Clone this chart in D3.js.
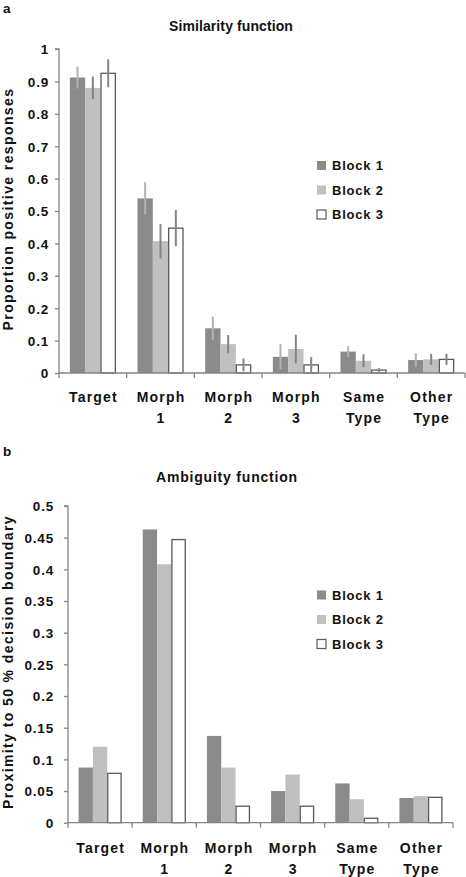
<!DOCTYPE html>
<html>
<head>
<meta charset="utf-8">
<script src="https://cdn.jsdelivr.net/npm/d3@7"></script>
<style>
  html, body { margin: 0; padding: 0; background: #fff; }
  svg { display: block; }
  text { font-family: "Liberation Sans", Arial, sans-serif; font-weight: bold; fill: #111; }
</style>
</head>
<body>
<svg id="chart" width="466" height="877"></svg>
<script>
// ---------- data ----------
const categories = ["Target", "Morph 1", "Morph 2", "Morph 3", "Same Type", "Other Type"];
const catLine1 = ["Target", "Morph", "Morph", "Morph", "Same", "Other"];
const catLine2 = ["", "1", "2", "3", "Type", "Type"];
const seriesNames = ["Block 1", "Block 2", "Block 3"];

// Panel a: similarity function (mean proportion positive responses)
const simBlock1 = [0.912, 0.539, 0.138, 0.050, 0.066, 0.040];
const simBlock2 = [0.880, 0.407, 0.089, 0.074, 0.038, 0.042];
const simBlock3 = [0.925, 0.447, 0.025, 0.025, 0.009, 0.042];
// error bar half-lengths
const simErr1 = [0.034, 0.050, 0.036, 0.039, 0.017, 0.021];
const simErr2 = [0.035, 0.053, 0.028, 0.044, 0.020, 0.017];
const simErr3 = [0.043, 0.056, 0.020, 0.024, 0.006, 0.017];
const simTicks = [0, 0.1, 0.2, 0.3, 0.4, 0.5, 0.6, 0.7, 0.8, 0.9, 1];
const simTickLabels = ["0", "0.1", "0.2", "0.3", "0.4", "0.5", "0.6", "0.7", "0.8", "0.9", "1"];

// Panel b: ambiguity function
const ambBlock1 = [0.087, 0.463, 0.137, 0.050, 0.062, 0.039];
const ambBlock2 = [0.120, 0.408, 0.087, 0.076, 0.037, 0.042];
const ambBlock3 = [0.078, 0.447, 0.026, 0.026, 0.007, 0.040];
const ambTicks = [0, 0.05, 0.1, 0.15, 0.2, 0.25, 0.3, 0.35, 0.4, 0.45, 0.5];
const ambTickLabels = ["0", "0.05", "0.1", "0.15", "0.2", "0.25", "0.3", "0.35", "0.4", "0.45", "0.5"];

// ---------- styles ----------
const barFill = ["#8b8b8b", "#c0c0c0", "#ffffff"];
const barStroke = ["none", "none", "#5a5a5a"];
const errColor = ["#b2b2b2", "#858585", "#858585"];
const axisColor = "#858585";

const svg = d3.select("#chart");

function drawPanel(cfg) {
  const g = svg.append("g");
  const x0 = d3.scaleBand().domain(categories).range([cfg.left, cfg.right]).padding(0);
  const groupW = x0.bandwidth() * cfg.groupFrac;
  const x1 = d3.scaleBand().domain(seriesNames).range([0, groupW]).padding(0);
  const y = d3.scaleLinear().domain(cfg.domain).range([cfg.bottom, cfg.top]);

  // panel letter
  g.append("text").attr("x", 3).attr("y", cfg.letterY).style("font-size", "13.5px").text(cfg.letter);
  // title
  g.append("text").attr("x", cfg.titleX).attr("y", cfg.titleY).attr("text-anchor", "middle")
    .style("font-size", "14px").style("letter-spacing", cfg.titleLS + "px").text(cfg.title);

  // bars
  cfg.series.forEach((vals, si) => {
    const grp = g.append("g");
    grp.selectAll("rect").data(vals).enter().append("rect")
      .attr("x", (d, i) => x0(categories[i]) + (x0.bandwidth() - groupW) / 2 + x1(seriesNames[si]) + (si === 2 ? 0.5 : 0))
      .attr("y", d => y(d))
      .attr("width", x1.bandwidth() - (si === 2 ? 1 : 0))
      .attr("height", d => y(0) - y(d))
      .attr("fill", barFill[si])
      .attr("stroke", barStroke[si])
      .attr("stroke-width", 1.3);
    if (cfg.errors) {
      const errs = cfg.errors[si];
      grp.selectAll("line.err").data(vals).enter().append("line")
        .attr("class", "err")
        .attr("x1", (d, i) => x0(categories[i]) + (x0.bandwidth() - groupW) / 2 + x1(seriesNames[si]) + x1.bandwidth() / 2)
        .attr("x2", (d, i) => x0(categories[i]) + (x0.bandwidth() - groupW) / 2 + x1(seriesNames[si]) + x1.bandwidth() / 2)
        .attr("y1", (d, i) => y(d + errs[i]))
        .attr("y2", (d, i) => y(Math.max(0, d - errs[i])))
        .attr("stroke", errColor[si])
        .attr("stroke-width", 2);
    }
  });

  // y axis
  const yAxis = d3.axisLeft(y).tickValues(cfg.ticks)
    .tickFormat((d, i) => cfg.tickLabels[i]).tickSize(4).tickPadding(cfg.tickPad);
  const ya = g.append("g").attr("transform", `translate(${cfg.left},0)`).call(yAxis);
  ya.select(".domain").attr("stroke", axisColor).attr("stroke-width", 1.3).attr("d", `M-4,${cfg.top}H0V${cfg.bottom}`);
  ya.selectAll(".tick line").attr("stroke", axisColor).attr("stroke-width", 1.3);
  ya.selectAll(".tick text").attr("fill", "#111").style("font-size", "13.5px")
    .style("font-family", '"Liberation Sans", Arial, sans-serif').style("font-weight", "bold")
    .style("letter-spacing", "0.8px").attr("dy", "0.36em");

  // x axis line and category boundary ticks
  g.append("line").attr("x1", cfg.left).attr("x2", cfg.right).attr("y1", y(0)).attr("y2", y(0))
    .attr("stroke", axisColor).attr("stroke-width", 1.3);
  const bounds = categories.map(c => x0(c)).concat([cfg.right]);
  g.selectAll("line.xt").data(bounds).enter().append("line").attr("class", "xt")
    .attr("x1", d => d).attr("x2", d => d).attr("y1", y(0)).attr("y2", y(0) + 5)
    .attr("stroke", axisColor).attr("stroke-width", 1.3);

  // category labels
  categories.forEach((c, i) => {
    const cx = x0(c) + x0.bandwidth() / 2;
    g.append("text").attr("x", cx + 0.6).attr("y", y(0) + cfg.lab1).attr("text-anchor", "middle")
      .style("font-size", "14px").style("letter-spacing", "1.2px").text(catLine1[i]);
    if (catLine2[i]) {
      g.append("text").attr("x", cx + 0.6).attr("y", y(0) + cfg.lab1 + 21).attr("text-anchor", "middle")
        .style("font-size", "14px").style("letter-spacing", "1.2px").text(catLine2[i]);
    }
  });

  // y axis title
  g.append("text").attr("transform", `translate(${cfg.yLabX},${cfg.yLabY}) rotate(-90)`)
    .attr("text-anchor", "middle").style("font-size", "14px").style("letter-spacing", cfg.yLabLS + "px")
    .text(cfg.yLabel);

  // legend
  seriesNames.forEach((s, si) => {
    const cy = cfg.legY + si * cfg.legStep;
    g.append("rect").attr("x", cfg.legX).attr("y", cy - 4.5).attr("width", 9).attr("height", 9)
      .attr("fill", barFill[si]).attr("stroke", barStroke[si]).attr("stroke-width", 1.2);
    g.append("text").attr("x", cfg.legX + 15).attr("y", cy + 4.8)
      .style("font-size", "13px").style("letter-spacing", "0.8px").text(s);
  });
}

drawPanel({
  letter: "a", letterY: 12.5,
  title: "Similarity function", titleX: 231, titleY: 31, titleLS: 0.1,
  left: 59, right: 465, top: 49, bottom: 373, domain: [0, 1], groupFrac: 0.68,
  series: [simBlock1, simBlock2, simBlock3],
  errors: [simErr1, simErr2, simErr3],
  ticks: simTicks, tickLabels: simTickLabels, tickPad: 6,
  lab1: 29,
  yLabel: "Proportion positive responses", yLabX: 13, yLabY: 209, yLabLS: 1.4,
  legX: 317, legY: 165.5, legStep: 24.5
});

drawPanel({
  letter: "b", letterY: 456,
  title: "Ambiguity function", titleX: 227, titleY: 482, titleLS: 0.8,
  left: 68, right: 453, top: 506, bottom: 822.7, domain: [0, 0.5], groupFrac: 0.67,
  series: [ambBlock1, ambBlock2, ambBlock3],
  errors: null,
  ticks: ambTicks, tickLabels: ambTickLabels, tickPad: 10,
  lab1: 30.5,
  yLabel: "Proximity to 50 % decision boundary", yLabX: 13, yLabY: 662, yLabLS: 1.4,
  legX: 317, legY: 595, legStep: 24.5
});
</script>
</body>
</html>
